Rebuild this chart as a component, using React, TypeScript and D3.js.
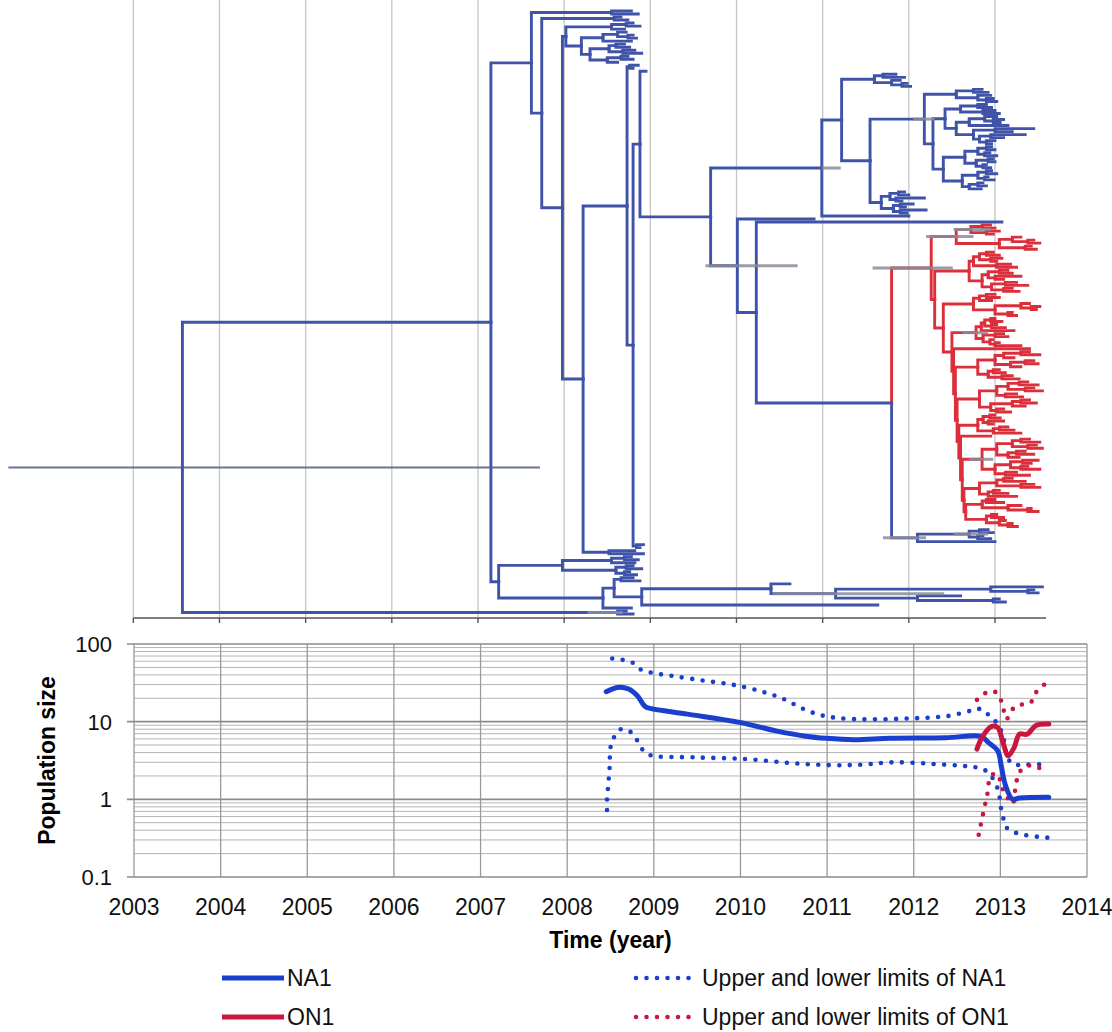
import { useMemo } from 'react';
import * as d3 from 'd3';

// ---- time tree (Newick-like): tip = sampling date, ")date" = node date,
// "{lo,hi}" = 95% HPD of node height, "*" = ON1 lineage (red)
const T1 = '(2008.78,2008.86)2008.55';
const T2 = '(2008.66,2008.74)2008.58';
const C1 = '((2008.80,2008.88)2008.72,2008.70)2008.55';
const C2 = '((2008.72,(2008.80,2008.84)2008.74)2008.62,2008.78)2008.45';
const C3 = '((2008.70,2008.76)2008.60,(2008.82,2008.90)2008.68)2008.52';
const C4 = '((2008.74,2008.80)2008.66,2008.62)2008.50';
const C5 = '(2008.86,2008.80)2008.76';
const C6 = '(2008.92,2008.88)2008.84';
const C7 = '2008.95';
const C_LOW = '(2008.82,2008.92)2008.52';
const CA = '((2011.85,2011.95)2011.70,(2011.90,(2011.98,2012.02)2011.92)2011.80)2011.60';
const P1 = '((2012.85,2012.92)2012.75,(2012.95,(2012.98,2013.02)2012.90)2012.80)2012.55';
const P3 =
  '(((2012.90,2012.96)2012.80,(2013.00,2013.05)2012.86)2012.60,(((2013.02,(2013.10,2013.06)2012.98)2012.88,2013.15)2012.70,((2013.45,2013.20)2013.00,((2013.35,2013.10)2012.95,(2013.00,2012.96)2012.90)2012.82)2012.75)2012.55)2012.42';
const P4 =
  '((((2012.96,2013.00)2012.90,(2012.94,2013.02)2012.88)2012.80,((2012.98,2013.00)2012.92,(2012.90,2012.95)2012.86)2012.78)2012.65,(((2012.96,2013.02)2012.90,(2012.92,2012.99)2012.88)2012.80,((2012.86,2012.90)2012.80,2012.84)2012.70)2012.62)2012.40';
const CB =
  '(((2011.95,2012.00)2011.88,(2012.18,2011.92)2011.85)2011.78,((2012.05,2011.96)2011.90,(2012.20,2011.98)2011.90)2011.82)2011.68';
const TIP_A = '2012.00';

const O1 =
  '(((2012.95,2013.00)2012.85,(2013.05,2012.98)2012.90)2012.72{2012.52,2012.95},((2013.30,(2013.45,2013.52)2013.38)2013.20,(2013.42,2013.48)2013.35)2013.05)2012.55{2012.20,2012.75}';
const O3 =
  '((((2012.98,2013.05)2012.90,(2013.08,2013.02)2012.95)2012.82,(2013.18,2013.25)2013.02)2012.75,(((2013.15,2013.20)2013.05,(2013.30,2013.10)2013.00)2012.92,((2013.25,2013.38)2013.12,(2013.20,2013.28)2013.10)2012.96)2012.85)2012.70';
const O5 =
  '(((2013.00,2013.05)2012.90,2012.96)2012.82,((2013.40,(2013.52,2013.48)2013.42)2013.30,(2013.20,2013.25)2013.15)2013.00)2012.75';
const O7 =
  '((((2013.00,2013.08)2012.95,(2013.02,2013.12)2012.96)2012.88,2013.22)2012.84,((2013.10,2013.15)2013.00,(2012.98,(2013.05,2013.30)2013.00)2012.94)2012.86)2012.78{2012.62,2012.92}';
const O9 =
  '((((2013.40,2013.52)2013.30,2013.22)2013.10,((2013.45,2013.50)2013.35,2013.30)2013.18)2013.00,((2013.05,2013.12)2012.98,(2013.20,2013.28)2013.08)2012.92)2012.80';
const O11 =
  '((((2013.38,2013.50)2013.28,(2013.45,2013.55)2013.35)2013.15,(2013.25,2013.32)2013.12)2013.02,(((2013.40,2013.48)2013.30,2013.35)2013.20,(2013.10,2013.18)2013.02)2012.95)2012.82';
const O13 = '(((2013.00,2013.06)2012.94,(2013.10,2012.98)2012.92)2012.86,((2013.15,2013.22)2013.05,2013.30)2012.98)2012.80';
const O15 =
  '((((2013.40,2013.52)2013.30,(2013.48,2013.55)2013.38)2013.20,((2013.35,2013.45)2013.25,2013.28)2013.15)2013.02,(((2013.50,2013.42)2013.32,(2013.38,2013.52)2013.30)2013.18,(2013.25,2013.40)2013.12)2013.00)2012.85{2012.70,2012.98}';
const O17 = '(((2013.20,2013.35)2013.10,(2013.45,2013.52)2013.30)2013.02,((2013.05,2013.15)2012.98,2013.25)2012.92)2012.82';
const O19 = '((2013.00,2013.10)2012.90,(2013.30,(2013.42,2013.50)2013.38)2013.15)2012.85';
const O21 = '((2013.02,2013.10)2012.96,(2013.12,(2013.20,2013.26)2013.15)2013.05)2012.90';
const ON1 = `(${O1},(${O3},(${O5},(${O7},(2013.40,(${O9},(${O11},(${O13},(2012.95,(${O15},(${O17},(${O19},${O21})2012.66)2012.64)2012.62)2012.60)2012.58)2012.56)2012.54)2012.52)2012.50)2012.40)2012.30)2012.26{2011.58,2012.51}*`;
const NA1C = '(((2012.92,2012.98)2012.82,(2012.86,2012.95)2012.80)2012.70{2012.52,2012.92},2013.00)2012.10{2011.70,2012.20}';

const C8 = '((2008.78,2008.86)2008.70,2008.82)2008.55';
const C9 = '((2008.80,2008.90)2008.72,(2008.76,2008.84)2008.70)2008.60';
const C11 = '(2008.80,2008.88)2008.66';
const CLF = '(2013.55,(2013.45,2013.50)2013.38)2012.95';
const N917 = '(2012.60,(2013.05,2013.12)2012.98)2012.10';
const C10 = '2008.78';
const B_CLADE = '(2008.72,2008.80)2008.62{2008.27,2008.68}';

const NODE500 = `((${C8},${C9})2007.98,((${C11},((2010.62,(${CLF},${N917})2011.15{2010.42,2012.41})2010.40,2011.64)2008.90)2008.58,${C10})2008.45)2007.24`;
const NODE823 = `((${CA},((${P1},(${P3},${P4})2012.28)2012.18{2012.05,2012.30},${CB})2011.55)2011.22,${TIP_A})2010.99{2010.99,2011.21}`;
const NODE738 = `(2010.90,(2013.08,(${ON1},${NA1C})2011.80)2010.23)2010.01{2009.64,2010.71}`;
const NODE584 = `((${C5},((${C7},(${NODE823},${NODE738})2009.70)2008.88,${C6})2008.80)2008.73,${C_LOW})2008.22`;
const NODE563 = `((${C1},(${C2},(${C3},${C4})2008.30)2008.20)2008.02,${NODE584})2007.98`;
const TREE = `(((${T1},(${T2},${NODE563})2007.74)2007.62,${NODE500})2007.15,${B_CLADE})2003.57{2001.55,2007.72}`;

// ---- Bayesian skyline, [year, population size]
const NA1_MEDIAN: [number, number][] = [
  [2008.45, 24.3], [2008.58, 27.6], [2008.71, 26.3], [2008.81, 21.5], [2008.9, 15.7], [2008.96, 14.8],
  [2009.39, 12.5], [2009.99, 9.8], [2010.41, 7.6], [2010.75, 6.5], [2010.99, 6.1], [2011.31, 5.85],
  [2011.73, 6.1], [2012.37, 6.2], [2012.78, 6.45], [2012.86, 5.4], [2012.97, 4.2], [2013.01, 2.7],
  [2013.06, 1.5], [2013.14, 1.0], [2013.22, 1.04], [2013.56, 1.06],
];
const NA1_UPPER: [number, number][] = [
  [2008.52, 65], [2008.64, 62.5], [2008.75, 58], [2008.84, 47.5], [2008.96, 43], [2009.2, 39],
  [2009.56, 34], [2009.94, 29.5], [2010.28, 23.8], [2010.5, 19.5], [2010.73, 14.5], [2010.96, 11.9],
  [2011.31, 10.8], [2011.94, 11], [2012.41, 11.9], [2012.67, 13.9], [2012.78, 14.5], [2012.88, 11.7],
  [2012.97, 9.3], [2013.03, 6.5], [2013.08, 3.6], [2013.14, 2.85], [2013.3, 2.8], [2013.56, 2.85],
];
const NA1_LOWER: [number, number][] = [
  [2008.46, 0.73], [2008.46, 1.0], [2008.47, 1.36], [2008.49, 2.58], [2008.5, 4.66], [2008.54, 6.28],
  [2008.62, 8.0], [2008.73, 7.4], [2008.81, 5.7], [2008.88, 4.22], [2008.96, 3.7], [2009.47, 3.47],
  [2010.07, 3.3], [2010.58, 2.93], [2011.01, 2.76], [2011.39, 2.79], [2011.77, 3.0], [2012.37, 2.79],
  [2012.62, 2.66], [2012.75, 2.53], [2012.86, 2.22], [2012.97, 1.36], [2013.01, 0.75], [2013.05, 0.5],
  [2013.09, 0.41], [2013.22, 0.36], [2013.43, 0.33], [2013.56, 0.32],
];
const ON1_MEDIAN: [number, number][] = [
  [2012.73, 4.44], [2012.8, 6.6], [2012.9, 8.7], [2012.97, 8.4], [2013.03, 5.4], [2013.09, 3.64],
  [2013.16, 4.67], [2013.22, 6.9], [2013.31, 6.9], [2013.41, 8.9], [2013.56, 9.3],
];
const ON1_UPPER: [number, number][] = [
  [2012.73, 19.1], [2012.84, 23.7], [2012.94, 24.2], [2013.01, 18.6], [2013.04, 13.8], [2013.07, 10.8],
  [2013.16, 15.3], [2013.26, 16.8], [2013.35, 17.7], [2013.41, 23.7], [2013.56, 33.5],
];
const ON1_LOWER: [number, number][] = [
  [2012.75, 0.35], [2012.8, 0.65], [2012.85, 1.17], [2012.89, 2.01], [2012.97, 2.12], [2013.01, 1.5],
  [2013.07, 1.11], [2013.14, 0.87], [2013.18, 1.57], [2013.22, 2.23], [2013.31, 2.7], [2013.43, 2.58],
  [2013.56, 2.23],
];

const YEARS = [2003, 2004, 2005, 2006, 2007, 2008, 2009, 2010, 2011, 2012, 2013, 2014];
const Y_TICKS = [0.1, 1, 10, 100];
const Y_TICK_LABELS = ['0.1', '1', '10', '100'];

const TREE_BLUE = '#3f53a8';
const TREE_RED = '#dc2f3c';
const NA1_COLOR = '#1a3fcf';
const ON1_COLOR = '#c8163e';
const FONT = '"Liberation Sans", Arial, sans-serif';

interface TreeNode {
  date: number;
  children: TreeNode[];
  hpd?: [number, number];
  on1: boolean;
  y: number;
}

function parseTree(src: string): TreeNode {
  let pos = 0;
  const num = () => {
    const m = /^-?\d+(\.\d+)?/.exec(src.slice(pos));
    if (!m) throw new Error('bad tree at ' + pos);
    pos += m[0].length;
    return +m[0];
  };
  const node = (): TreeNode => {
    const n: TreeNode = { date: 0, children: [], on1: false, y: 0 };
    if (src[pos] === '(') {
      pos++;
      n.children.push(node());
      while (src[pos] === ',') {
        pos++;
        n.children.push(node());
      }
      pos++; // ')'
    }
    n.date = num();
    if (src[pos] === '{') {
      pos++;
      const lo = num();
      pos++;
      const hi = num();
      pos++;
      n.hpd = [lo, hi];
    }
    if (src[pos] === '*') {
      pos++;
      n.on1 = true;
    }
    return n;
  };
  return node();
}

export default function App() {
  const tree = useMemo(() => {
    const root = d3.hierarchy(parseTree(TREE), (d) => d.children);
    const leaves = root.leaves();
    const yLeaf = d3.scaleLinear().domain([0, leaves.length - 1]).range([11, 614]);
    leaves.forEach((l, i) => (l.data.y = yLeaf(i)));
    root.eachAfter((n) => {
      if (n.children) {
        n.data.y = (n.children[0].data.y + n.children[n.children.length - 1].data.y) / 2;
      }
    });
    root.eachBefore((n) => {
      if (n.parent && n.parent.data.on1) n.data.on1 = true;
    });
    return root;
  }, []);

  const xT = d3.scaleLinear().domain([2003, 2013]).range([133.3, 995]);
  const treeAxisEnd = 1046;
  const treeAxisY = 618;

  const xB = d3.scaleLinear().domain([2003, 2014]).range([134, 1087]);
  const yB = d3.scaleLog().domain([0.1, 100]).range([877, 644]);

  const minorTicks: number[] = [];
  [0.1, 1, 10].forEach((d) => {
    for (let k = 2; k <= 9; k++) minorTicks.push(d * k);
  });

  const line = d3
    .line<[number, number]>()
    .x((d) => xB(d[0]))
    .y((d) => yB(d[1]))
    .curve(d3.curveCatmullRom.alpha(0.5));

  const branches = tree.descendants().filter((n) => n.parent);
  const hpdNodes = tree.descendants().filter((n) => n.data.hpd);

  return (
    <svg
      width={1112}
      height={1032}
      style={{ position: 'absolute', left: 0, top: 0, display: 'block', background: '#fff' }}
      fontFamily={FONT}
    >
      {/* ---- tree: year gridlines */}
      {YEARS.filter((yr) => yr <= 2013).map((yr) => (
        <line key={`tg-${yr}`} x1={xT(yr)} x2={xT(yr)} y1={0} y2={treeAxisY} stroke="#c6c6c6" strokeWidth={1.3} />
      ))}

      {/* branches: vertical at parent, then horizontal to node */}
      {branches.map((n, i) => {
        const p = n.parent!;
        return (
          <path
            key={`br-${i}`}
            d={`M${xT(p.data.date)},${p.data.y}V${n.data.y}H${xT(n.data.date)}`}
            fill="none"
            stroke={n.data.on1 ? TREE_RED : TREE_BLUE}
            strokeWidth={2.9}
            strokeLinecap="square"
          />
        );
      })}

      {/* node height 95% HPD bars */}
      {hpdNodes.map((n, i) => (
        <line
          key={`hpd-${i}`}
          x1={xT(n.data.hpd![0])}
          x2={xT(n.data.hpd![1])}
          y1={n.data.y}
          y2={n.data.y}
          stroke={n.depth === 0 ? '#4f5a8c' : '#8a8c98'}
          strokeOpacity={0.85}
          strokeWidth={n.depth === 0 ? 2 : 3}
        />
      ))}

      {/* tree time axis */}
      <line x1={xT(2003)} x2={treeAxisEnd} y1={treeAxisY} y2={treeAxisY} stroke="#555" strokeWidth={1.6} />
      {YEARS.filter((yr) => yr <= 2013).map((yr) => (
        <line key={`tt-${yr}`} x1={xT(yr)} x2={xT(yr)} y1={treeAxisY} y2={treeAxisY + 5} stroke="#555" strokeWidth={1.4} />
      ))}

      {/* ---- skyline plot grid */}
      {minorTicks.map((t) => (
        <line key={`mg-${t}`} x1={xB(2003)} x2={xB(2014)} y1={yB(t)} y2={yB(t)} stroke="#b4b4b4" strokeWidth={1} />
      ))}
      {YEARS.map((yr) => (
        <line key={`vg-${yr}`} x1={xB(yr)} x2={xB(yr)} y1={yB(100)} y2={yB(0.1)} stroke="#9a9a9a" strokeWidth={1.3} />
      ))}
      {Y_TICKS.map((t, i) => (
        <g key={`yt-${t}`}>
          <line x1={xB(2003) - 7} x2={xB(2014)} y1={yB(t)} y2={yB(t)} stroke="#8c8c8c" strokeWidth={1.6} />
          <text x={112} y={yB(t)} dy="0.36em" textAnchor="end" fontSize={22} fill="#111">
            {Y_TICK_LABELS[i]}
          </text>
        </g>
      ))}
      {YEARS.map((yr) => (
        <text key={`xl-${yr}`} x={xB(yr)} y={915} textAnchor="middle" fontSize={23} fill="#111">
          {yr}
        </text>
      ))}
      <text
        transform={`translate(47, ${(yB(100) + yB(0.1)) / 2}) rotate(-90)`}
        dy="0.36em"
        textAnchor="middle"
        fontSize={23}
        fontWeight="bold"
        fill="#000"
      >
        Population size
      </text>
      <text x={(xB(2003) + xB(2014)) / 2} y={948} textAnchor="middle" fontSize={23} fontWeight="bold" fill="#000">
        Time (year)
      </text>

      {/* ---- skyline curves */}
      {[NA1_UPPER, NA1_LOWER].map((s, i) => (
        <path
          key={`nad-${i}`}
          d={line(s) ?? undefined}
          fill="none"
          stroke={NA1_COLOR}
          strokeWidth={4.6}
          strokeDasharray="0 10.5"
          strokeLinecap="round"
        />
      ))}
      {[ON1_UPPER, ON1_LOWER].map((s, i) => (
        <path
          key={`ond-${i}`}
          d={line(s) ?? undefined}
          fill="none"
          stroke={ON1_COLOR}
          strokeWidth={4.6}
          strokeDasharray="0 10.5"
          strokeLinecap="round"
        />
      ))}
      <path d={line(NA1_MEDIAN) ?? undefined} fill="none" stroke={NA1_COLOR} strokeWidth={5} strokeLinecap="round" />
      <path d={line(ON1_MEDIAN) ?? undefined} fill="none" stroke={ON1_COLOR} strokeWidth={5} strokeLinecap="round" />

      {/* ---- legend */}
      {[
        { label: 'NA1', color: NA1_COLOR, y: 978 },
        { label: 'ON1', color: ON1_COLOR, y: 1017 },
      ].map((l) => (
        <g key={`lg-${l.label}`}>
          <line x1={222} x2={284} y1={l.y} y2={l.y} stroke={l.color} strokeWidth={5} />
          <text x={287} y={l.y} dy="0.36em" fontSize={23} fill="#111">
            {l.label}
          </text>
          <line
            x1={636}
            x2={692}
            y1={l.y}
            y2={l.y}
            stroke={l.color}
            strokeWidth={4.6}
            strokeDasharray="0 10.5"
            strokeLinecap="round"
          />
          <text x={702} y={l.y} dy="0.36em" fontSize={23} fill="#111">
            Upper and lower limits of {l.label}
          </text>
        </g>
      ))}
    </svg>
  );
}
